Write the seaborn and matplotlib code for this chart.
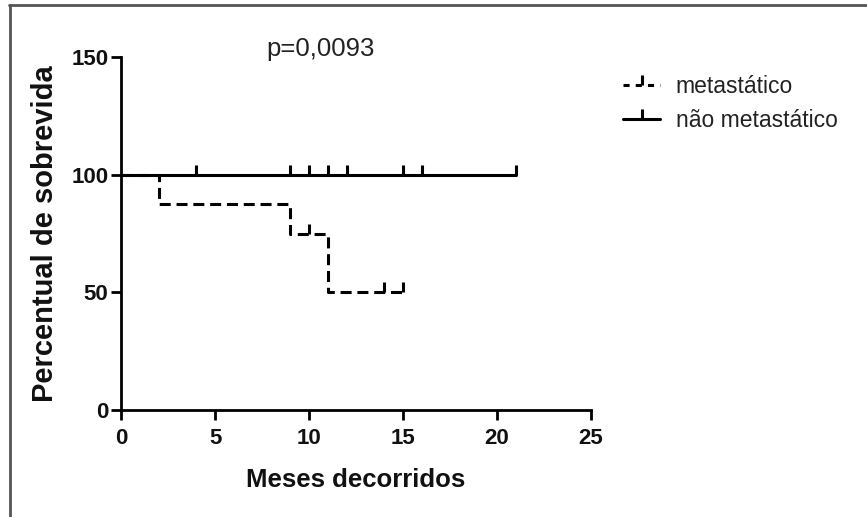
import matplotlib
matplotlib.use("Agg")
import matplotlib.pyplot as plt
from matplotlib.lines import Line2D
import seaborn as sns
import pandas as pd

# Kaplan-Meier step curves (months, % survival)
met_months = [0, 2, 9, 11, 15]
met_surv = [100, 87.5, 75, 50, 50]
met_cens_months = [10, 14, 15]
met_cens_surv = [75, 50, 50]

nonmet_months = [0, 21]
nonmet_surv = [100, 100]
nonmet_cens_months = [4, 9, 10, 11, 12, 15, 16, 21]
nonmet_cens_surv = [100, 100, 100, 100, 100, 100, 100, 100]

groups = ["metastático", "não metastático"]
x_ticks = [0, 5, 10, 15, 20, 25]
y_ticks = [0, 50, 100, 150]
p_text = "p=0,0093"

sns.set_theme(style="white")
plt.rcParams["font.family"] = ["Liberation Sans", "DejaVu Sans"]

df = pd.concat([
    pd.DataFrame({"meses": met_months, "sobrevida": met_surv, "grupo": groups[0]}),
    pd.DataFrame({"meses": nonmet_months, "sobrevida": nonmet_surv, "grupo": groups[1]}),
], ignore_index=True)

fig = plt.figure(figsize=(8.67, 5.17), dpi=100)
ax = fig.add_axes([0.1396, 0.207, 0.5421, 0.6827])

lw = 2.2
dash = (3.6, 1.9)
sns.lineplot(data=df, x="meses", y="sobrevida", style="grupo",
             style_order=groups, dashes={groups[0]: dash, groups[1]: ""},
             drawstyle="steps-post", color="black", linewidth=lw,
             legend=False, ax=ax, estimator=None)

ax.plot(met_cens_months, met_cens_surv, linestyle="none", marker=2,
        markersize=7, markeredgewidth=lw, color="black")
ax.plot(nonmet_cens_months, nonmet_cens_surv, linestyle="none", marker=2,
        markersize=7, markeredgewidth=lw, color="black")

ax.set_xlim(0, 25)
ax.set_ylim(0, 150)
ax.set_xticks(x_ticks)
ax.set_yticks(y_ticks)
for s in ["top", "right"]:
    ax.spines[s].set_visible(False)
for s in ["left", "bottom"]:
    ax.spines[s].set_color("black")
    ax.spines[s].set_linewidth(2)
ax.tick_params(axis="x", direction="out", length=7, width=2, color="black",
               bottom=True, pad=6)
ax.tick_params(axis="y", direction="out", length=7, width=2, color="black",
               left=True, pad=2)
for lab in ax.get_xticklabels() + ax.get_yticklabels():
    lab.set_fontweight("bold")
    lab.set_fontsize(16)
    lab.set_color("#111111")

ax.set_xlabel("Meses decorridos", fontweight="bold",
              fontsize=18.5, color="#111111", labelpad=14)
ax.set_ylabel("Percentual de sobrevida", fontweight="bold",
              fontsize=21, color="#111111", labelpad=9)

ax.text(10.6, 153.5, p_text, ha="center", va="center", fontsize=18.5,
        color="#222222", clip_on=False)

handles = [
    Line2D([0], [0], color="black", linewidth=lw, dashes=(2, 2), marker=2,
           markersize=7, markeredgewidth=lw),
    Line2D([0], [0], color="black", linewidth=lw, marker=2,
           markersize=7, markeredgewidth=lw),
]
fig.legend(handles, groups, loc="upper left", bbox_to_anchor=(0.695, 0.895),
           frameon=False, fontsize=16.5, handlelength=1.6, handletextpad=0.7,
           labelspacing=0.5, numpoints=1, labelcolor="#222222")

# frame lines on top and left of the figure
fig.add_artist(Line2D([0.0104, 1.0], [0.990, 0.990], transform=fig.transFigure,
                      color="#555555", linewidth=2))
fig.add_artist(Line2D([0.0110, 0.0110], [0.0, 0.990], transform=fig.transFigure,
                      color="#555555", linewidth=2))

fig.savefig("out.png", dpi=100)
